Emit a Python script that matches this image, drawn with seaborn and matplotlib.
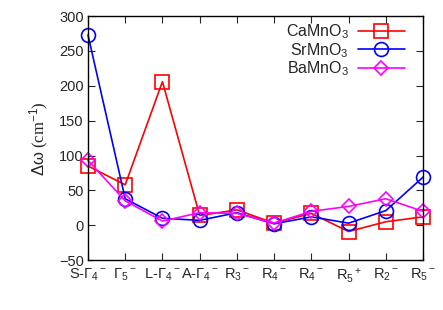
import pandas as pd
import matplotlib
matplotlib.use('Agg')
import matplotlib.pyplot as plt
import seaborn as sns

# 데이터
modes = ['S-$\\Gamma_4{}^-$', '$\\Gamma_5{}^-$', 'L-$\\Gamma_4{}^-$', 'A-$\\Gamma_4{}^-$', 'R$_3{}^-$',
         'R$_4{}^-$', 'R$_4{}^-$', 'R$_5{}^+$', 'R$_2{}^-$', 'R$_5{}^-$']
ca = [85, 58, 206, 14, 22, 3, 17, -9, 5, 12]
sr = [273, 38, 10, 7, 18, 2, 12, 3, 21, 69]
ba = [93, 35, 6, 18, 17, 3, 20, 27, 38, 20]
series = ['CaMnO$_3$', 'SrMnO$_3$', 'BaMnO$_3$']

rows = []
for name, vals in zip(series, [ca, sr, ba]):
    for i, v in enumerate(vals):
        rows.append({'pos': i, 'dw': v, 'compound': name})
df = pd.DataFrame(rows)

sns.set_style('ticks')
plt.rcParams['font.family'] = ['Liberation Sans', 'DejaVu Sans']
plt.rcParams['mathtext.fontset'] = 'custom'
plt.rcParams['mathtext.rm'] = 'Liberation Sans'
plt.rcParams['mathtext.it'] = 'Liberation Sans'

fig = plt.figure(figsize=(4.43, 3.10), dpi=100)
ax = fig.add_axes([0.1986, 0.161, 0.7564, 0.787])

sns.lineplot(data=df, x='pos', y='dw', hue='compound', style='compound',
             palette=['#ff0000', '#0000ff', '#ff00ff'],
             markers=['s', 'o', 'D'], dashes=False, sort=False,
             markersize=10, markeredgewidth=1.2,
             linewidth=1.2, ax=ax)

# 마커 속 비우기 + 가장자리 잘림 방지
sizes = {'s': 10, 'o': 10, 'D': 7.5}
for line in ax.get_lines():
    line.set_markerfacecolor('none')
    line.set_markeredgecolor(line.get_color())
    line.set_clip_on(False)
    if line.get_marker() in sizes:
        line.set_markersize(sizes[line.get_marker()])

ax.set_xlim(0, 9)
ax.set_ylim(-50, 300)
ax.set_yticks(range(-50, 301, 50))
ax.set_xticks(range(10))
ax.set_xticklabels(modes, fontsize=10.5)
ax.tick_params(axis='y', labelsize=10.5, pad=3)
ax.tick_params(axis='x', pad=5)
ax.tick_params(direction='in', top=True, right=True, length=5, width=0.8)
ax.set_xlabel('')
ax.set_ylabel('$\\Delta\\omega$ (cm$^{-1}$)', fontsize=12, family='Liberation Serif', labelpad=6)
for sp in ax.spines.values():
    sp.set_linewidth(1.0)
    sp.set_color('black')

leg = ax.legend(loc='upper right', bbox_to_anchor=(0.945, 0.975), markerfirst=False,
                frameon=False, fontsize=11.5, handlelength=2.9, labelspacing=0.0,
                borderaxespad=0, borderpad=0, handletextpad=0.6)
for h in leg.get_lines():
    h.set_markerfacecolor('none')

fig.savefig('out.png', dpi=100)
